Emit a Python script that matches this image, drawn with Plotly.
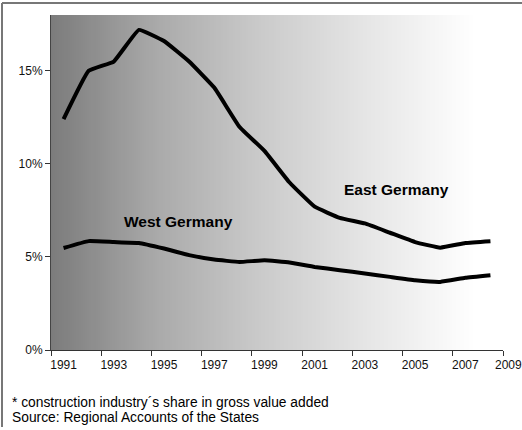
import plotly.graph_objects as go
import numpy as np

years = list(range(1991, 2009))
east_germany = [12.4, 15.0, 15.5, 17.2, 16.6, 15.5, 14.1, 12.0, 10.7, 9.0,
                7.7, 7.1, 6.8, 6.3, 5.8, 5.5, 5.75, 5.85]
west_germany = [5.48, 5.85, 5.8, 5.75, 5.45, 5.1, 4.86, 4.73, 4.82, 4.7,
                4.46, 4.29, 4.11, 3.93, 3.75, 3.66, 3.88, 4.02]
label_years = [1991, 1993, 1995, 1997, 1999, 2001, 2003, 2005, 2007]
y_ticks = [0, 5, 10, 15]
y_tick_text = ["0%", "5%", "10%", "15%"]

W, H = 522, 430
L, R, T, B = 51, 19, 15, 80
pw, ph = W - L - R, H - T - B
FONT = "Liberation Sans, Arial, sans-serif"

def px2paper_x(px):
    return (px - L) / pw

def px2paper_y(py):
    return (H - B - py) / ph

fig = go.Figure()

# gradient background
n = 200
x0, x1 = 1990.5, 2007.38
edges = np.linspace(x0, x1, n + 1)
z = [list(np.linspace(0, 1, n))]
fig.add_trace(go.Heatmap(
    x=edges, y=[0, 18], z=z, zmin=0, zmax=1,
    colorscale=[[0, "#7c7c7c"], [0.25, "#aaaaaa"], [0.5, "#cbcbcb"],
                [0.75, "#e6e6e6"], [1, "#ffffff"]],
    showscale=False, hoverinfo="skip", xaxis="x", yaxis="y"))

for vals in (east_germany, west_germany):
    fig.add_trace(go.Scatter(
        x=years, y=vals, mode="lines",
        line=dict(color="black", width=4, shape="spline", smoothing=0.3),
        hoverinfo="skip", showlegend=False, xaxis="x", yaxis="y"))

# invisible trace on tick axis
fig.add_trace(go.Scatter(x=[1990.5], y=[0], mode="markers",
                         marker=dict(opacity=0), showlegend=False,
                         hoverinfo="skip", xaxis="x2", yaxis="y"))

fig.update_layout(
    width=W, height=H,
    margin=dict(l=L, r=R, t=T, b=B),
    paper_bgcolor="white", plot_bgcolor="white",
    showlegend=False,
    font=dict(family=FONT, color="#111111"),
    xaxis=dict(range=[1990.5, 2008.5], tickvals=label_years,
               ticktext=[str(y) for y in label_years],
               ticks="outside", ticklen=4, tickcolor="rgba(0,0,0,0)",
               showgrid=False, zeroline=False, showline=False,
               tickfont=dict(size=12, color="#111111")),
    xaxis2=dict(range=[1990.5, 2008.5], overlaying="x",
                tickvals=[1990.5 + 2 * k for k in range(10)],
                ticks="outside", ticklen=5, tickcolor="#333333", tickwidth=1,
                showticklabels=False, showgrid=False, zeroline=False,
                showline=True, linecolor="#333333", linewidth=1,
                side="bottom", anchor="y"),
    yaxis=dict(range=[0, 18], tickvals=y_ticks, ticktext=y_tick_text,
               ticks="outside", ticklen=5, tickcolor="#333333",
               showgrid=False, zeroline=False, showline=True,
               linecolor="#444444", linewidth=1,
               tickfont=dict(size=12, color="#111111")),
)

annotations = [
    dict(x=2004.24, y=8.6, xref="x", yref="y", text="<b>East Germany</b>",
         showarrow=False, font=dict(size=15.5, color="black", family=FONT)),
    dict(x=1995.56, y=6.88, xref="x", yref="y", text="<b>West Germany</b>",
         showarrow=False, font=dict(size=15.5, color="black", family=FONT)),
    dict(x=2008.5, y=0, xref="x", yref="y", text="2009", showarrow=False,
         xanchor="center", yanchor="top", xshift=5, yshift=-6,
         font=dict(size=12, color="#111111", family=FONT)),
    dict(x=px2paper_x(10), y=px2paper_y(402), xref="paper", yref="paper",
         text="* construction industry´s share in gross value added",
         showarrow=False, xanchor="left", yanchor="middle",
         font=dict(size=13.8, color="black", family=FONT)),
    dict(x=px2paper_x(10), y=px2paper_y(418), xref="paper", yref="paper",
         text="Source: Regional Accounts of the States",
         showarrow=False, xanchor="left", yanchor="middle",
         font=dict(size=13.8, color="black", family=FONT)),
]
fig.update_layout(annotations=annotations)

fig.update_layout(shapes=[
    dict(type="line", xref="paper", yref="paper",
         x0=px2paper_x(2), x1=px2paper_x(W), y0=px2paper_y(3), y1=px2paper_y(3),
         line=dict(color="#777777", width=2)),
    dict(type="line", xref="paper", yref="paper",
         x0=px2paper_x(2), x1=px2paper_x(2), y0=px2paper_y(3), y1=px2paper_y(427),
         line=dict(color="#777777", width=2)),
])

fig.write_html(
    "out.html",
    config={"displayModeBar": False, "staticPlot": True},
    post_script="document.body.style.margin='0';document.body.style.padding='0';"
                "document.documentElement.style.overflow='hidden';",
)
